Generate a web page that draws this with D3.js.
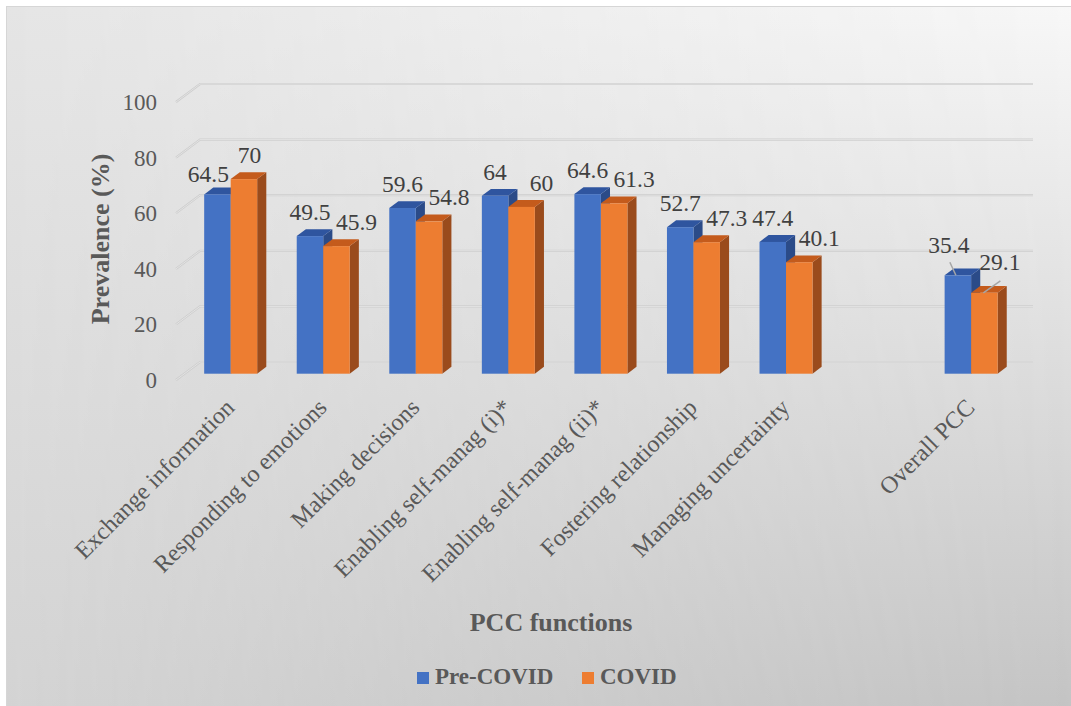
<!DOCTYPE html>
<html>
<head>
<meta charset="utf-8">
<script src="https://cdn.jsdelivr.net/npm/d3@7/dist/d3.min.js"></script>
<style>
  html, body { margin: 0; padding: 0; background: #ffffff; }
  svg { display: block; }
  svg text { font-family: "Liberation Serif", "Times New Roman", serif; }
</style>
</head>
<body>
<svg id="chart" width="1071" height="706"></svg>
<script>
// PCC function prevalence before and during COVID
const categories = [
  "Exchange information",
  "Responding to emotions",
  "Making decisions",
  "Enabling self-manag (i)*",
  "Enabling self-manag (ii)*",
  "Fostering relationship",
  "Managing uncertainty",
  "",
  "Overall PCC"
];
const preCovid = [64.5, 49.5, 59.6, 64, 64.6, 52.7, 47.4, null, 35.4];
const covid    = [70, 45.9, 54.8, 60, 61.3, 47.3, 40.1, null, 29.1];
const seriesNames = ["Pre-COVID", "COVID"];
const yTicks = [0, 20, 40, 60, 80, 100];

// Manually placed labels (offset from the front-top centre of the bar); some carry leader lines
const labelShift = {
  "Exchange information": [[-9, -12], [5.5, -16]],
  "Overall PCC": [[-9, -22], [15.5, -23]]
};
const leaderCats = new Set(["Overall PCC"]);

const W = 1071, H = 706;
const svg = d3.select("#chart");
const defs = svg.append("defs");

// ---- background panel: bilinear grey gradient ----
const gv = defs.append("linearGradient").attr("id", "bgV")
  .attr("x1", 0).attr("y1", 0).attr("x2", 0).attr("y2", 1);
gv.append("stop").attr("offset", 0).attr("stop-color", "#f8f8f8");
gv.append("stop").attr("offset", 1).attr("stop-color", "#c4c4c4");

const gl = defs.append("linearGradient").attr("id", "bgL")
  .attr("x1", 0).attr("y1", 0).attr("x2", 0).attr("y2", 1);
gl.append("stop").attr("offset", 0).attr("stop-color", "#e5e5e5");
gl.append("stop").attr("offset", 1).attr("stop-color", "#d3d3d3");

const gm = defs.append("linearGradient").attr("id", "maskH")
  .attr("x1", 0).attr("y1", 0).attr("x2", 1).attr("y2", 0);
gm.append("stop").attr("offset", 0).attr("stop-color", "#fff");
gm.append("stop").attr("offset", 1).attr("stop-color", "#000");
defs.append("mask").attr("id", "leftMask")
  .attr("maskUnits", "userSpaceOnUse")
  .attr("x", 0).attr("y", 0).attr("width", W).attr("height", H)
  .append("rect").attr("x", 6).attr("y", 6).attr("width", W).attr("height", H)
  .attr("fill", "url(#maskH)");

svg.append("rect").attr("x", 6).attr("y", 6).attr("width", W).attr("height", H)
  .attr("fill", "url(#bgV)");
svg.append("rect").attr("x", 6).attr("y", 6).attr("width", W).attr("height", H)
  .attr("fill", "url(#bgL)").attr("mask", "url(#leftMask)");
svg.append("rect").attr("x", 6.5).attr("y", 6.5).attr("width", W).attr("height", H)
  .attr("fill", "none").attr("stroke", "#d6d6d6").attr("stroke-width", 1);

// ---- 3D geometry ----
// x and y describe the back wall; depth d moves a point toward the viewer (0 = back, 1 = front)
const x = d3.scaleBand().domain(categories).range([200, 1033]);
const y = d3.scaleLinear().domain([0, 100]).range([362, 84]);
const DX = 24, DY = 18;
const project = (px, py, d) => [px - DX * d, py + DY * d];

const BAR_FRONT = 0.65;   // depth of the bars' front faces
const BAR_DEPTH = 0.38;   // how far the bars reach toward the back wall
const barW = 26.5;

const textGrey = "#595959";

// ---- gridlines on the back wall, with the side-wall diagonals ----
const grid = svg.append("g");
yTicks.forEach(t => {
  const yb = y(t);
  const [fx, fy] = project(200, yb, 1);
  grid.append("path")
    .attr("d", `M${fx},${fy}L200,${yb}L1033,${yb}`)
    .attr("fill", "none").attr("stroke", "#cdcdcd").attr("stroke-width", 2.2);
  grid.append("path")
    .attr("d", `M${fx},${fy}L200,${yb}L1033,${yb}`)
    .attr("fill", "none").attr("stroke", "#e9e9e9").attr("stroke-width", 0.8);
  svg.append("text")
    .attr("x", 157).attr("y", fy).attr("dy", "0.35em")
    .attr("text-anchor", "end")
    .attr("font-size", 23)
    .attr("fill", textGrey)
    .text(t);
});

// ---- bars ----
const colors = [
  { front: "#4472c4", top: "#2f559f", side: "#2b4b88" },
  { front: "#ed7d31", top: "#c45b1c", side: "#9a4b1c" }
];
const series = [preCovid, covid];
const bars = svg.append("g");
const labels = svg.append("g");

categories.forEach((cat, i) => {
  const cBack = x(cat) + x.bandwidth() / 2;
  series.forEach((vals, s) => {
    const v = vals[i];
    if (v == null) return;
    const xl = cBack + (s === 0 ? -barW : 0);
    const [x0, y0] = project(xl, y(0), BAR_FRONT);
    const [x1, y1] = project(xl + barW, y(v), BAR_FRONT);
    const ox = DX * BAR_DEPTH, oy = -DY * BAR_DEPTH;
    const col = colors[s];
    // right side face
    bars.append("path")
      .attr("d", `M${x1},${y1}L${x1 + ox},${y1 + oy}L${x1 + ox},${y0 + oy}L${x1},${y0}Z`)
      .attr("fill", col.side);
    // top face
    bars.append("path")
      .attr("d", `M${x0},${y1}L${x1},${y1}L${x1 + ox},${y1 + oy}L${x0 + ox},${y1 + oy}Z`)
      .attr("fill", col.top);
    // front face
    bars.append("rect")
      .attr("x", x0).attr("y", y1).attr("width", x1 - x0).attr("height", y0 - y1)
      .attr("fill", col.front);

    // value label
    const cx = (x0 + x1) / 2;
    const shift = labelShift[cat] ? labelShift[cat][s] : (s === 0 ? [0, -16] : [20, -16]);
    if (leaderCats.has(cat)) {
      const end = s === 0 ? [cx - 8, y1 - 13] : [cx + 16, y1 - 12];
      const start = s === 0 ? [cx - 2, y1] : [cx - 1, y1];
      labels.append("line")
        .attr("x1", start[0]).attr("y1", start[1])
        .attr("x2", end[0]).attr("y2", end[1])
        .attr("stroke", "#a6a6a6").attr("stroke-width", 1.5);
    }
    labels.append("text")
      .attr("x", cx + shift[0]).attr("y", y1 + shift[1])
      .attr("text-anchor", "middle")
      .attr("font-size", 23.5)
      .attr("fill", "#404040")
      .text(v);
  });

  // category label, rotated
  if (cat) {
    const [cx] = project(cBack, y(0), BAR_FRONT);
    svg.append("text")
      .attr("transform", `translate(${cx + 5},409) rotate(-45)`)
      .attr("text-anchor", "end")
      .attr("font-size", 24)
      .attr("fill", textGrey)
      .text(cat);
  }
});

// ---- axis titles ----
svg.append("text")
  .attr("transform", "translate(109,239) rotate(-90)")
  .attr("text-anchor", "middle")
  .attr("font-size", 26).attr("font-weight", "bold")
  .attr("fill", textGrey)
  .text("Prevalence (%)");

svg.append("text")
  .attr("x", 551).attr("y", 631)
  .attr("text-anchor", "middle")
  .attr("font-size", 26).attr("font-weight", "bold")
  .attr("fill", textGrey)
  .text("PCC functions");

// ---- legend ----
const legendX = [417, 582];
seriesNames.forEach((name, s) => {
  svg.append("rect")
    .attr("x", legendX[s]).attr("y", 672).attr("width", 12).attr("height", 12)
    .attr("fill", colors[s].front);
  svg.append("text")
    .attr("x", legendX[s] + 18).attr("y", 684)
    .attr("font-size", 23).attr("font-weight", "bold")
    .attr("fill", textGrey)
    .text(name);
});
</script>
</body>
</html>
